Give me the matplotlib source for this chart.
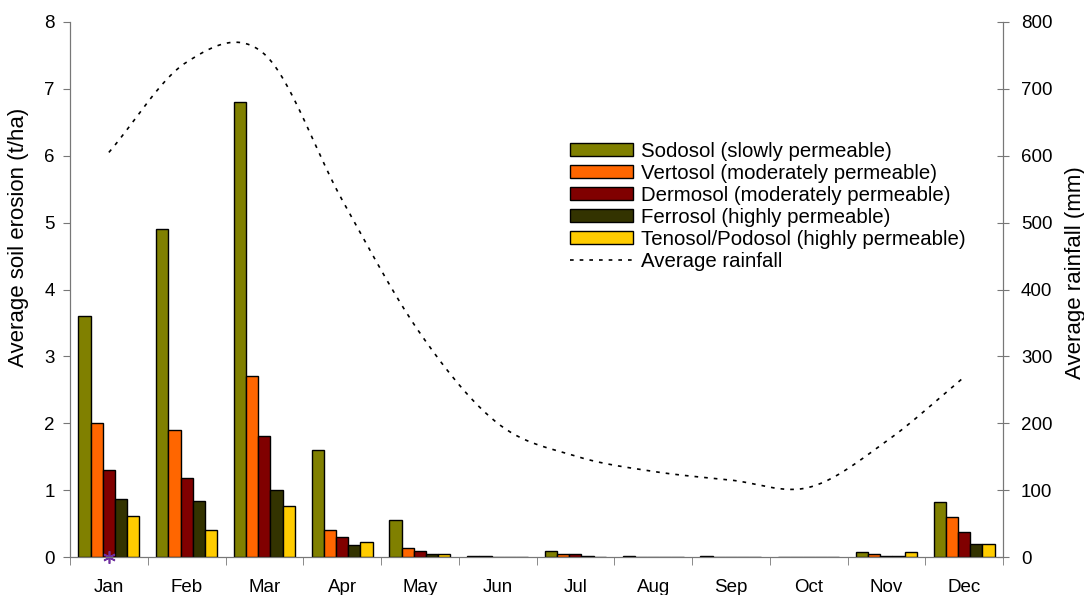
import numpy as np
import matplotlib
matplotlib.use("Agg")
import matplotlib.pyplot as plt
from matplotlib.lines import Line2D
from matplotlib.patches import Patch

plt.rcParams['font.family'] = ['Liberation Sans', 'DejaVu Sans']

months = ["Jan", "Feb", "Mar", "Apr", "May", "Jun", "Jul", "Aug", "Sep", "Oct", "Nov", "Dec"]
series_names = ["Sodosol (slowly permeable)", "Vertosol (moderately permeable)",
                "Dermosol (moderately permeable)", "Ferrosol (highly permeable)",
                "Tenosol/Podosol (highly permeable)"]
sodosol = [3.6, 4.9, 6.8, 1.6, 0.55, 0.02, 0.09, 0.02, 0.02, 0.0, 0.07, 0.82]
vertosol = [2.0, 1.9, 2.7, 0.41, 0.14, 0.02, 0.04, 0.0, 0.0, 0.0, 0.04, 0.6]
dermosol = [1.3, 1.18, 1.81, 0.3, 0.09, 0.0, 0.04, 0.0, 0.0, 0.0, 0.02, 0.38]
ferrosol = [0.86, 0.84, 1.0, 0.18, 0.04, 0.0, 0.02, 0.0, 0.0, 0.0, 0.02, 0.2]
tenosol = [0.62, 0.41, 0.77, 0.23, 0.04, 0.0, 0.0, 0.0, 0.0, 0.0, 0.07, 0.2]
rainfall = [605, 740, 752, 534, 335, 200, 151, 128, 115, 104, 173, 269]
colors = ["#808000", "#FF6600", "#800000", "#333300", "#FFCC00"]
axis_grey = '#777777'
dash = (0, (2.2, 3.6))

fig = plt.figure(figsize=(10.84, 5.95), dpi=100)
ax = fig.add_axes([70/1084, 38/595, (1003-70)/1084, (557-22)/595])
x = np.arange(len(months))
bw = 0.157
data = [sodosol, vertosol, dermosol, ferrosol, tenosol]
for i, (vals, c) in enumerate(zip(data, colors)):
    ax.bar(x + (i - 2) * bw, vals, bw, color=c, edgecolor="black", linewidth=1.0, zorder=3)

ax.set_xlim(-0.5, 11.5)
ax.set_ylim(0, 8)
ax.set_yticks(range(0, 9))
ax.set_xticks(x)
ax.set_xticklabels(months)
ax.set_xticks(np.arange(-0.5, 12, 1), minor=True)
ax.tick_params(axis='x', which='major', length=0, pad=16, labelsize=13.5)
ax.tick_params(axis='x', which='minor', length=6, direction='out', color=axis_grey)
ax.tick_params(axis='y', length=5, direction='out', color=axis_grey, labelsize=13.5, pad=6)
ax.spines['top'].set_visible(False)
for s in ['left', 'bottom', 'right']:
    ax.spines[s].set_color(axis_grey)

# purple marker at Jan
ax.plot([0], [0], linestyle='none', marker=(6, 2, 0), markersize=9, color='#7030A0',
        markeredgewidth=1.2, zorder=5, clip_on=False)

ax2 = ax.twinx()
ax2.set_ylim(0, 800)
ax2.set_yticks(range(0, 801, 100))
ax2.tick_params(axis='y', length=8, direction='inout', color=axis_grey, labelsize=13.5, pad=9)
ax2.spines['top'].set_visible(False)
for s in ['left', 'bottom', 'right']:
    ax2.spines[s].set_color(axis_grey)

# axis titles (placed as in the reference, slightly above the axis centre)
fig.text(19/1084, 1 - 237/595, "Average soil erosion (t/ha)", rotation=90,
         ha='center', va='center', fontsize=16)
fig.text(1075/1084, 1 - 273/595, "Average rainfall (mm)", rotation=90,
         ha='center', va='center', fontsize=16)

# smoothed line (Catmull-Rom, like Excel's smoothed line)
xs = x.astype(float)
ys = np.array(rainfall, dtype=float)
px = np.concatenate([[2*xs[0]-xs[1]], xs, [2*xs[-1]-xs[-2]]])
py = np.concatenate([[2*ys[0]-ys[1]], ys, [2*ys[-1]-ys[-2]]])
sx, sy = [], []
t = np.linspace(0, 1, 30)
h00 = 2*t**3 - 3*t**2 + 1
h10 = t**3 - 2*t**2 + t
h01 = -2*t**3 + 3*t**2
h11 = t**3 - t**2
for k in range(1, len(px) - 2):
    p0, p1, p2, p3 = [np.array([px[j], py[j]]) for j in (k-1, k, k+1, k+2)]
    m1 = (p2 - p0) / 2
    m2 = (p3 - p1) / 2
    seg = np.outer(h00, p1) + np.outer(h10, m1) + np.outer(h01, p2) + np.outer(h11, m2)
    sx.extend(seg[:, 0]); sy.extend(seg[:, 1])
ax2.plot(sx, sy, color='black', linestyle=dash, linewidth=1.2, zorder=4)

handles = [Patch(facecolor=c, edgecolor='black', linewidth=1.0) for c in colors]
handles.append(Line2D([], [], color='black', linestyle=dash, linewidth=1.2))
labels = series_names + ["Average rainfall"]
ax2.legend(handles, labels, loc='upper left', bbox_to_anchor=(0.536, 0.776), frameon=False,
           fontsize=14.7, handlelength=3.1, handleheight=0.6, handletextpad=0.35,
           labelspacing=0.15, borderaxespad=0, borderpad=0)

fig.savefig("out.png", dpi=100)
